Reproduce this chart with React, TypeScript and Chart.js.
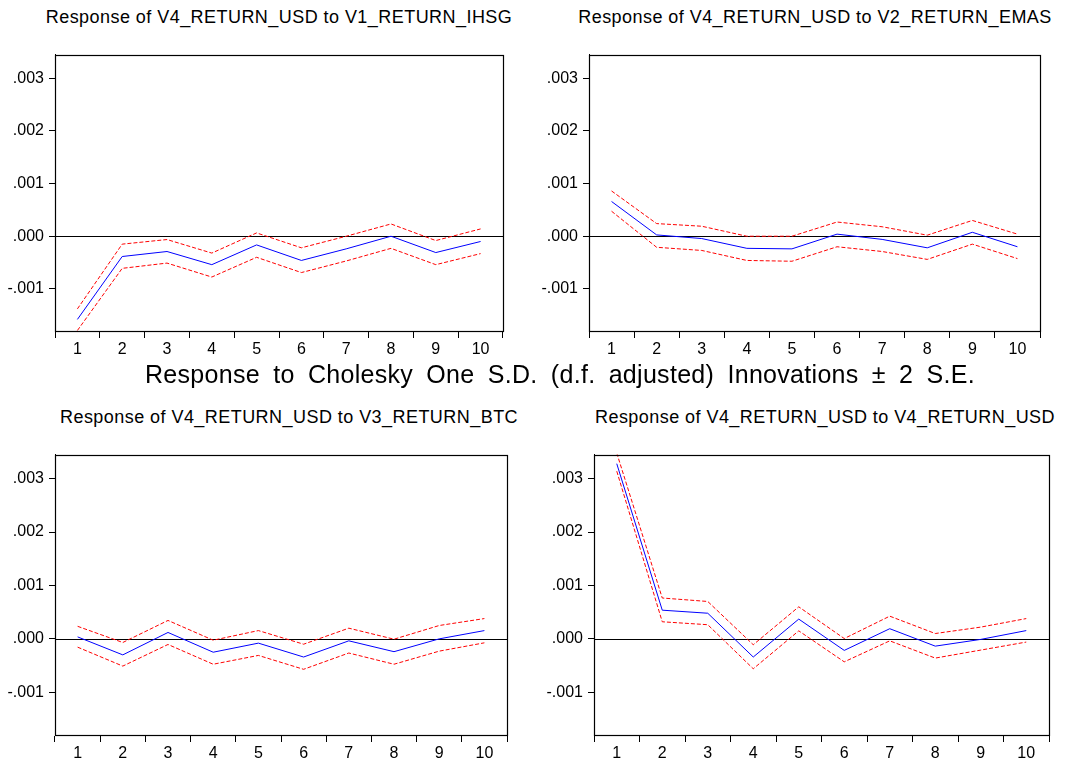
import React, { useEffect, useRef } from "react";
import { Chart, registerables } from "chart.js";

Chart.register(...registerables);

const periods = ["1", "2", "3", "4", "5", "6", "7", "8", "9", "10"];
const yTickValues = [-0.001, 0, 0.001, 0.002, 0.003];
const yMin = -0.0018;
const yMax = 0.00345;

const mainTitle = "Response to Cholesky One S.D. (d.f. adjusted) Innovations \u00B1 2 S.E.";

const ihsgTitle = "Response of V4_RETURN_USD to V1_RETURN_IHSG";
const ihsgResp = [-0.00158, -0.000385, -0.00029, -0.00054, -0.000165, -0.00046, -0.00024, 0.0, -0.00031, -0.0001];
const ihsgUpper = [-0.00138, -0.00015, -0.000063, -0.00032, 0.000063, -0.00022, 0.0, 0.000233, -0.000082, 0.000139];
const ihsgLower = [-0.00179, -0.00061, -0.00051, -0.000775, -0.0004, -0.00069, -0.00047, -0.00023, -0.00054, -0.00033];

const emasTitle = "Response of V4_RETURN_USD to V2_RETURN_EMAS";
const emasResp = [0.00066, 0.000025, -0.000044, -0.00023, -0.00024, 0.00004, -0.00006, -0.00022, 0.000075, -0.0002];
const emasUpper = [0.00086, 0.00024, 0.00019, 0.0, 0.0, 0.00027, 0.00018, 0.00002, 0.0003, 0.00004];
const emasLower = [0.000475, -0.00021, -0.00027, -0.00046, -0.000475, -0.0002, -0.00029, -0.00044, -0.00015, -0.000425];

const btcTitle = "Response of V4_RETURN_USD to V3_RETURN_BTC";
const btcResp = [0.000037, -0.0003, 0.00012, -0.00025, -0.00008, -0.00034, -0.000037, -0.00024, 0.0, 0.000155];
const btcUpper = [0.000235, -0.000068, 0.000345, -0.000025, 0.000155, -0.0001, 0.0002, -0.000006, 0.00025, 0.00038];
const btcLower = [-0.000155, -0.00051, -0.000105, -0.000475, -0.00031, -0.00057, -0.000265, -0.000475, -0.00023, -0.000074];

const usdTitle = "Response of V4_RETURN_USD to V4_RETURN_USD";
const usdResp = [0.00328, 0.000537, 0.00048, -0.00034, 0.00037, -0.000216, 0.00019, -0.000136, -0.00001, 0.000155];
const usdUpper = [0.00348, 0.000765, 0.0007, -0.00011, 0.0006, 0.000006, 0.000425, 0.0001, 0.00022, 0.00038];
const usdLower = [0.00314, 0.00032, 0.000265, -0.00056, 0.00015, -0.00043, -0.000037, -0.00036, -0.00021, -0.00006];

const FONT = '"Liberation Sans", Arial, sans-serif';

function fmt(v: number): string {
  const s = Math.abs(v).toFixed(3).replace(/^0/, "");
  return v < -1e-12 ? "-" + s : s;
}

const framePlugin = {
  id: "frame",
  beforeDatasetsDraw(chart: any) {
    const { ctx, chartArea: a, scales } = chart;
    const z = Math.round(scales.y.getPixelForValue(0)) + 0.5;
    ctx.save();
    ctx.strokeStyle = "#000";
    ctx.lineWidth = 1;
    ctx.beginPath();
    ctx.moveTo(a.left, z);
    ctx.lineTo(a.right, z);
    ctx.stroke();
    ctx.restore();
  },
  afterDraw(chart: any) {
    const { ctx, chartArea: a } = chart;
    ctx.save();
    ctx.strokeStyle = "#000";
    ctx.lineWidth = 1.2;
    ctx.strokeRect(Math.round(a.left) + 0.5, Math.round(a.top) + 0.5, Math.round(a.right - a.left), Math.round(a.bottom - a.top));
    ctx.restore();
  },
};

type PanelProps = {
  title: string;
  resp: number[];
  upper: number[];
  lower: number[];
  left: number;
  top: number;
  width: number;
  height: number;
  plotLeft: number;
  plotRight: number;
  plotTop: number;
  plotBottom: number;
  titleX: number;
  titleY: number;
};

function Panel(p: PanelProps) {
  const ref = useRef<HTMLCanvasElement | null>(null);
  useEffect(() => {
    if (!ref.current) return;
    const dashed = (d: number[]) => ({
      data: d,
      borderColor: "#ff0000",
      borderWidth: 1,
      borderDash: [4, 2],
      pointRadius: 0,
      tension: 0,
      fill: false,
    });
    const chart = new Chart(ref.current, {
      type: "line",
      data: {
        labels: periods,
        datasets: [
          dashed(p.upper),
          dashed(p.lower),
          { data: p.resp, borderColor: "#0000ff", borderWidth: 1, pointRadius: 0, tension: 0, fill: false },
        ],
      },
      options: {
        animation: false,
        responsive: false,
        maintainAspectRatio: false,
        events: [],
        layout: {
          padding: {
            top: p.plotTop - p.top,
            right: p.left + p.width - p.plotRight,
            left: 0,
            bottom: 0,
          },
        },
        plugins: { legend: { display: false }, tooltip: { enabled: false }, title: { display: false } },
        scales: {
          x: {
            type: "category",
            offset: true,
            grid: { offset: true, drawOnChartArea: false, drawTicks: true, tickLength: 7, color: "#000", lineWidth: 1 },
            border: { display: true, color: "#000" },
            ticks: { color: "#000", font: { family: FONT, size: 16 }, padding: 2, maxRotation: 0, autoSkip: false },
            afterFit: (s: any) => {
              s.height = p.top + p.height - p.plotBottom;
            },
          },
          y: {
            type: "linear",
            min: yMin,
            max: yMax,
            afterBuildTicks: (s: any) => {
              s.ticks = yTickValues.map((v) => ({ value: v }));
            },
            grid: { drawOnChartArea: false, drawTicks: true, tickLength: 6, color: "#000" },
            border: { display: true, color: "#000" },
            ticks: {
              color: "#000",
              font: { family: FONT, size: 16 },
              padding: 5,
              callback: (v: any) => fmt(Number(v)),
            },
            afterFit: (s: any) => {
              s.width = p.plotLeft - p.left;
            },
          },
        },
      } as any,
      plugins: [framePlugin],
    });
    return () => chart.destroy();
  }, []);
  return (
    <>
      <div
        style={{
          position: "absolute",
          left: p.titleX,
          top: p.titleY,
          transform: "translate(-50%, -50%)",
          whiteSpace: "nowrap",
          fontFamily: FONT,
          fontSize: 18,
          letterSpacing: 0.45,
          color: "#000",
        }}
      >
        {p.title}
      </div>
      <canvas
        ref={ref}
        width={p.width}
        height={p.height}
        style={{ position: "absolute", left: p.left, top: p.top, width: p.width, height: p.height }}
      />
    </>
  );
}

export default function App() {
  useEffect(() => {
    document.body.style.margin = "0";
  }, []);
  return (
    <div style={{ position: "relative", width: 1074, height: 765, background: "#fff", overflow: "hidden" }}>
      <Panel
        title={ihsgTitle}
        resp={ihsgResp}
        upper={ihsgUpper}
        lower={ihsgLower}
        left={0}
        top={40}
        width={537}
        height={320}
        plotLeft={55}
        plotRight={503}
        plotTop={52}
        plotBottom={331}
        titleX={279}
        titleY={17}
      />
      <Panel
        title={emasTitle}
        resp={emasResp}
        upper={emasUpper}
        lower={emasLower}
        left={537}
        top={40}
        width={537}
        height={320}
        plotLeft={589}
        plotRight={1040}
        plotTop={52}
        plotBottom={331}
        titleX={815}
        titleY={17}
      />
      <Panel
        title={btcTitle}
        resp={btcResp}
        upper={btcUpper}
        lower={btcLower}
        left={0}
        top={440}
        width={537}
        height={325}
        plotLeft={55}
        plotRight={507}
        plotTop={454}
        plotBottom={735}
        titleX={289}
        titleY={417}
      />
      <Panel
        title={usdTitle}
        resp={usdResp}
        upper={usdUpper}
        lower={usdLower}
        left={537}
        top={440}
        width={537}
        height={325}
        plotLeft={594}
        plotRight={1049}
        plotTop={454}
        plotBottom={735}
        titleX={825}
        titleY={417}
      />
      <div
        style={{
          position: "absolute",
          left: 560,
          top: 374,
          transform: "translate(-50%, -50%)",
          whiteSpace: "nowrap",
          fontFamily: FONT,
          fontSize: 25,
          wordSpacing: 6,
          letterSpacing: 0.3,
          color: "#000",
        }}
      >
        {mainTitle}
      </div>
    </div>
  );
}
